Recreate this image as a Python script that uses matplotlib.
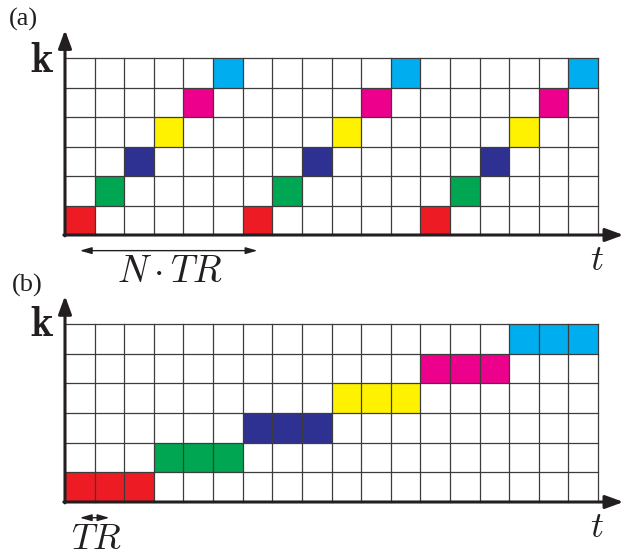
import matplotlib
matplotlib.use("Agg")
import matplotlib.pyplot as plt
from matplotlib.patches import Rectangle

plt.rcParams['mathtext.fontset'] = 'cm'

W, H = 625, 557
n_cols, n_rows = 18, 6

palette = ['#ED1C24', '#00A651', '#2E3192', '#FFF200', '#EC008C', '#00AEEF']

# panel (a): interleaved acquisition, one k-line per TR, repeated
a_cols = [0, 1, 2, 3, 4, 5, 6, 7, 8, 9, 10, 11, 12, 13, 14, 15, 16, 17]
a_rows = [0, 1, 2, 3, 4, 5, 0, 1, 2, 3, 4, 5, 0, 1, 2, 3, 4, 5]
a_color_idx = [0, 1, 2, 3, 4, 5, 0, 1, 2, 3, 4, 5, 0, 1, 2, 3, 4, 5]

# panel (b): sequential acquisition, each k-line held for 3 TR
b_cols = [0, 1, 2, 3, 4, 5, 6, 7, 8, 9, 10, 11, 12, 13, 14, 15, 16, 17]
b_rows = [0, 0, 0, 1, 1, 1, 2, 2, 2, 3, 3, 3, 4, 4, 4, 5, 5, 5]
b_color_idx = [0, 0, 0, 1, 1, 1, 2, 2, 2, 3, 3, 3, 4, 4, 4, 5, 5, 5]

fig = plt.figure(figsize=(W / 100, H / 100), dpi=100)
fig.patch.set_facecolor('white')


def px_axes(x0, y0, x1, y1):
    return fig.add_axes([x0 / W, 1 - y1 / H, (x1 - x0) / W, (y1 - y0) / H])


def draw_panel(ax, cols, rows, cidx, span_arrow):
    ax.set_xlim(0, n_cols)
    ax.set_ylim(0, n_rows)
    ax.axis('off')
    for c, r, k in zip(cols, rows, cidx):
        ax.add_patch(Rectangle((c, r), 1, 1, facecolor=palette[k], edgecolor='none', zorder=1))
    for i in range(1, n_cols + 1):
        ax.plot([i, i], [0, n_rows], color='#3c3c3c', lw=0.9, zorder=2, clip_on=False)
    for j in range(1, n_rows + 1):
        ax.plot([0, n_cols], [j, j], color='#3c3c3c', lw=0.9, zorder=2, clip_on=False)
    # axes with arrows
    ax.annotate('', xy=(0, n_rows + 0.95), xytext=(0, -0.03), xycoords='data',
                arrowprops=dict(arrowstyle='-|>,head_length=0.9,head_width=0.33', lw=2.2,
                                color='#231F20', shrinkA=0, shrinkB=0, mutation_scale=12),
                annotation_clip=False, zorder=3)
    ax.annotate('', xy=(n_cols + 0.86, 0), xytext=(-0.04, 0), xycoords='data',
                arrowprops=dict(arrowstyle='-|>,head_length=0.9,head_width=0.33', lw=2.2,
                                color='#231F20', shrinkA=0, shrinkB=0, mutation_scale=12),
                annotation_clip=False, zorder=3)
    # duration arrow
    ax.annotate('', xy=(span_arrow[1], -0.53), xytext=(span_arrow[0], -0.53), xycoords='data',
                arrowprops=dict(arrowstyle='<|-|>,head_length=0.7,head_width=0.2', lw=1.0,
                                color='#231F20', shrinkA=0, shrinkB=0, mutation_scale=10),
                annotation_clip=False)


ax_a = px_axes(65, 58, 598, 235)
draw_panel(ax_a, a_cols, a_rows, a_color_idx, (0.5, 6.5))
ax_b = px_axes(65, 324, 598, 502)
draw_panel(ax_b, b_cols, b_rows, b_color_idx, (0.5, 1.5))


def ftext(x, y, s, **kw):
    fig.text(x / W, 1 - y / H, s, ha='center', va='center', color='#231F20', **kw)


ftext(23, 19, '(a)', fontsize=19, family='Liberation Serif')
ftext(27, 285, '(b)', fontsize=19, family='Liberation Serif')
ftext(42, 60, r'$\mathbf{k}$', fontsize=31)
ftext(42, 324, r'$\mathbf{k}$', fontsize=31)
ftext(597, 260, r'$t$', fontsize=26)
ftext(597, 527, r'$t$', fontsize=26)
ftext(170, 272, r'$N\cdot TR$', fontsize=27)
ftext(96, 539, r'$TR$', fontsize=26)

fig.savefig('out.png', dpi=100, facecolor='white')
